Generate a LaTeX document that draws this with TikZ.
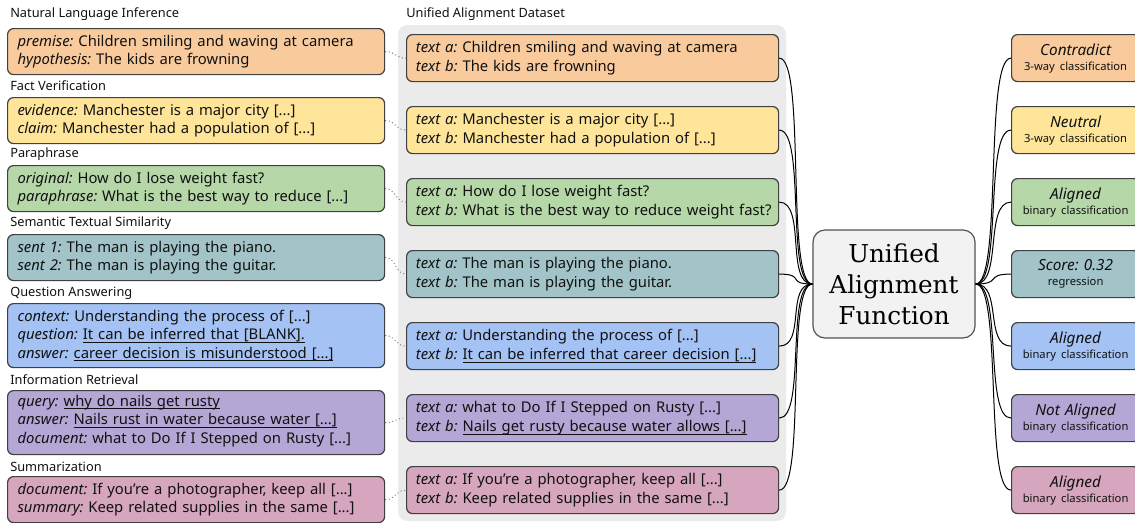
\documentclass[tikz,border=0pt]{standalone}
\usepackage{fontspec}
\setmainfont{Noto Sans}
\newfontfamily\cserif{DejaVu Serif}
\definecolor{corng}{HTML}{F9CB9C}
\definecolor{cyell}{HTML}{FFE599}
\definecolor{cgren}{HTML}{B6D7A8}
\definecolor{cteal}{HTML}{A2C4C9}
\definecolor{cblue}{HTML}{A4C2F4}
\definecolor{cpurp}{HTML}{B4A7D6}
\definecolor{cpink}{HTML}{D5A6BD}
\definecolor{bordc}{HTML}{404040}
\definecolor{txtc}{HTML}{111111}
\definecolor{bgc}{HTML}{EBEBEB}
\definecolor{cenc}{HTML}{F2F2F2}
\newcommand\myul[1]{\underline{\smash{#1}}}
\newcommand\lab[1]{{\itshape #1}}
\frenchspacing
\begin{document}
\begin{tikzpicture}[x=0.75pt,y=-0.75pt,
  ttl/.style={anchor=west, inner sep=0pt, text=txtc, font=\fontsize{9.6}{11}\selectfont},
  basebox/.style={draw=bordc, line width=0.9pt, rounded corners=4.5pt, anchor=north west,
    inner ysep=0pt, text=txtc},
  lbox/.style={basebox, inner xsep=7.5pt, text width=267.75pt, align=left,
    minimum height=34.5pt, font=\frenchspacing\fontsize{11.1}{14}\selectfont},
  mbox/.style={basebox, inner xsep=7pt, text width=265pt, align=left,
    minimum height=35.25pt, font=\frenchspacing\fontsize{11.1}{14.25}\selectfont},
  rbox/.style={basebox, inner xsep=3pt, text width=90pt, align=center,
    minimum height=35.25pt, font=\frenchspacing\fontsize{11.5}{11.25}\selectfont},
  conn/.style={draw=black, line width=0.75pt},
  dotc/.style={draw=black!55, line width=0.7pt, dotted}]
\useasboundingbox (0,0) rectangle (1135,522);
\newcommand\subl[1]{{\fontsize{8.4}{9}\selectfont #1}}

% background of dataset column
\fill[bgc, rounded corners=7pt] (398,25) rectangle (786,521);

% titles
\node[ttl] (t1) at (10,14) {Natural Language Inference};
\node[ttl] (t2) at (10,86) {Fact Verification};
\node[ttl] (t3) at (10,154) {Paraphrase};
\node[ttl] (t4) at (10,223) {Semantic Textual Similarity};
\node[ttl] (t5) at (10,293) {Question Answering};
\node[ttl] (t6) at (10,380) {Information Retrieval};
\node[ttl] (t7) at (10,467) {Summarization};
\node[ttl] (tm) at (406,14) {Unified Alignment Dataset};

% left boxes
\node[lbox, fill=corng] (l1) at (7,28) {\lab{premise:} Children smiling and waving at camera\\\lab{hypothesis:} The kids are frowning};
\node[lbox, fill=cyell] (l2) at (7,97) {\lab{evidence:} Manchester is a major city [...]\\\lab{claim:} Manchester had a population of [...]};
\node[lbox, fill=cgren] (l3) at (7,165) {\lab{original:} How do I lose weight fast?\\\lab{paraphrase:} What is the best way to reduce [...]};
\node[lbox, fill=cteal] (l4) at (7,234) {\lab{sent 1:} The man is playing the piano.\\\lab{sent 2:} The man is playing the guitar.};
\node[lbox, fill=cblue, minimum height=48pt] (l5) at (7,303) {\lab{context:} Understanding the process of [...]\\\lab{question:} \myul{It can be inferred that [BLANK].}\\\lab{answer:} \myul{career decision is misunderstood [...]}};
\node[lbox, fill=cpurp, minimum height=48pt] (l6) at (7,390) {\lab{query:} \myul{why do nails get rusty}\\\lab{answer:} \myul{Nails rust in water because water [...]}\\\lab{document:} what to Do If I Stepped on Rusty [...]};
\node[lbox, fill=cpink] (l7) at (7,476) {\lab{document:} If you're a photographer, keep all [...]\\\lab{summary:} Keep related supplies in the same [...]};

% middle boxes
\node[mbox, fill=corng] (m1) at (406,34) {\lab{text a:} Children smiling and waving at camera\\\lab{text b:} The kids are frowning};
\node[mbox, fill=cyell] (m2) at (406,106) {\lab{text a:} Manchester is a major city [...]\\\lab{text b:} Manchester had a population of [...]};
\node[mbox, fill=cgren] (m3) at (406,178) {\lab{text a:} How do I lose weight fast?\\\mbox{\lab{text b:} What is the best way to reduce weight fast?}};
\node[mbox, fill=cteal] (m4) at (406,250) {\lab{text a:} The man is playing the piano.\\\lab{text b:} The man is playing the guitar.};
\node[mbox, fill=cblue] (m5) at (406,322) {\lab{text a:} Understanding the process of [...]\\\lab{text b:} \myul{It can be inferred that career decision [...]}};
\node[mbox, fill=cpurp] (m6) at (406,394) {\lab{text a:} what to Do If I Stepped on Rusty [...]\\\lab{text b:} \myul{Nails get rusty because water allows [...]}};
\node[mbox, fill=cpink] (m7) at (406,466) {\lab{text a:} If you're a photographer, keep all [...]\\\lab{text b:} Keep related supplies in the same [...]};

% center node
\node[draw=bordc!90, fill=cenc, line width=0.9pt, rounded corners=9pt, minimum width=121.5pt,
  minimum height=81pt, inner sep=0pt, align=center, text=black,
  font=\cserif\fontsize{18.5}{23.25}\selectfont] (c) at (894,284) {Unified\\Alignment\\Function};

% right boxes
\node[rbox, fill=corng] (r1) at (1011,34) {\lab{Contradict}\\\subl{3-way classification}};
\node[rbox, fill=cyell] (r2) at (1011,106) {\lab{Neutral}\\\subl{3-way classification}};
\node[rbox, fill=cgren] (r3) at (1011,178) {\lab{Aligned}\\\subl{binary classification}};
\node[rbox, fill=cteal] (r4) at (1011,250) {\lab{Score: 0.32}\\\subl{regression}};
\node[rbox, fill=cblue] (r5) at (1011,322) {\lab{Aligned}\\\subl{binary classification}};
\node[rbox, fill=cpurp] (r6) at (1011,394) {\lab{Not Aligned}\\\subl{binary classification}};
\node[rbox, fill=cpink] (r7) at (1011,466) {\lab{Aligned}\\\subl{binary classification}};

% connectors
\foreach \i in {1,...,7} {
  \draw[dotc] (l\i.east) .. controls +(11,0) and +(-11,0) .. (m\i.west);
  \draw[conn] (m\i.east) .. controls +(27,0) and +(-27,0) .. (c.west);
  \draw[conn] (c.east) .. controls +(27,0) and +(-27,0) .. (r\i.west);
}
\end{tikzpicture}
\end{document}
